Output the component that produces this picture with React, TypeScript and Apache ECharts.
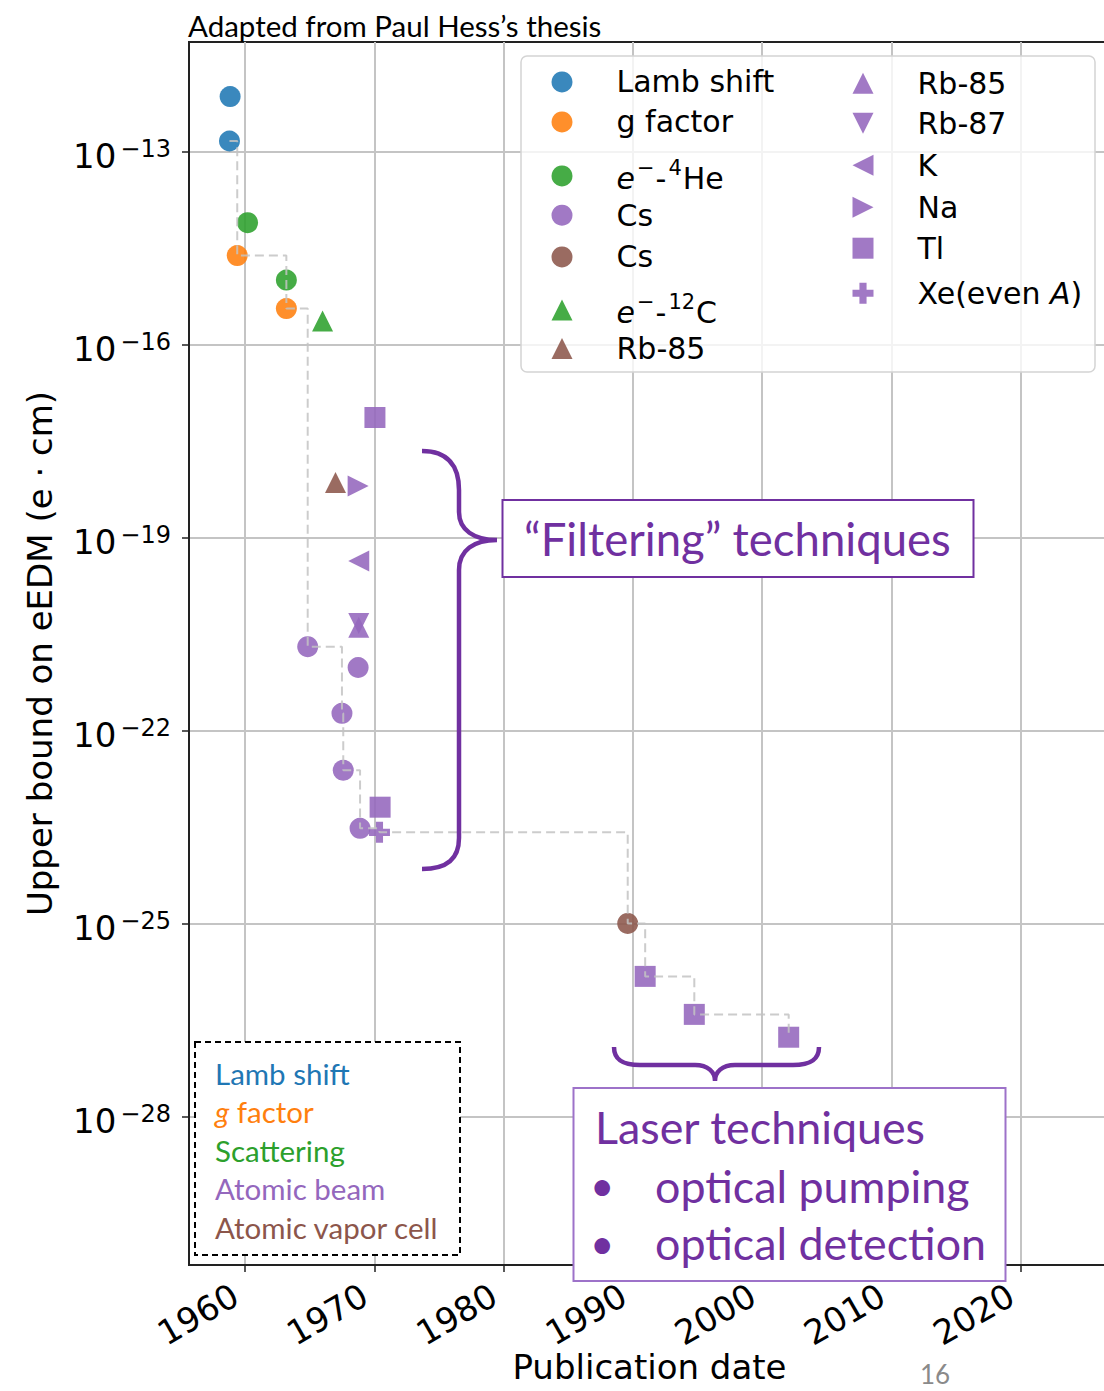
import React, { useEffect, useRef } from 'react';
import * as echarts from 'echarts';

// ---------- axes ----------
const TICK_YEARS = [1960, 1970, 1980, 1990, 2000, 2010, 2020];
const TICK_EXPONENTS = [-28, -25, -22, -19, -16, -13];
const X_MIN = 1955.67;
const X_MAX = 2026.9;
const Y_EXP_MIN = -30.31;
const Y_EXP_MAX = -11.3;

// ---------- data: [publication year, upper bound on eEDM (e·cm)] ----------
const lambShift = [[1958.85, 7.1e-13], [1958.8, 1.45e-13]];
const gFactor = [[1959.4, 2.4e-15], [1963.2, 3.6e-16]];
const eHe4 = [[1960.2, 7.8e-15], [1963.2, 1.0e-15]];
const csBeam = [[1964.85, 2.0e-21], [1968.75, 9.5e-22], [1967.5, 1.84e-22], [1967.6, 2.4e-23], [1968.9, 3.0e-24]];
const csCell = [[1989.6, 1.0e-25]];
const eC12 = [[1966.0, 2.3e-16]];
const rb85Cell = [[1967.0, 7.1e-19]];
const rb85Beam = [[1968.8, 4.0e-21]];
const rb87Beam = [[1968.8, 4.6e-21]];
const kBeam = [[1968.8, 4.3e-20]];
const naBeam = [[1968.75, 6.3e-19]];
const tlBeam = [[1970.05, 7.3e-18], [1970.45, 6.4e-24], [1990.95, 1.5e-26], [1994.75, 3.85e-27], [2002.05, 1.7e-27]];
const xeBeam = [[1970.4, 2.6e-24]];

const C_BLUE = '#1f77b4';
const C_ORANGE = '#ff7f0e';
const C_GREEN = '#2ca02c';
const C_PURPLE = '#9467bd';
const C_BROWN = '#8c564b';
const ANNOT = '#7030A0';

const SYM_CIRCLE = 'circle';
const SYM_UP = 'path://M5,0L10,10L0,10Z';
const SYM_DOWN = 'path://M0,0L10,0L5,10Z';
const SYM_LEFT = 'path://M10,0L10,10L0,5Z';
const SYM_RIGHT = 'path://M0,0L0,10L10,5Z';
const SYM_SQUARE = 'rect';
const SYM_PLUS = 'path://M3.3,0H6.7V3.3H10V6.7H6.7V10H3.3V6.7H0V3.3H3.3Z';

// name (unique id), legend text, data, symbol, color, legend column
const SERIES_DEFS = [
  { name: 'Lamb shift', label: 'Lamb shift', data: lambShift, symbol: SYM_CIRCLE, color: C_BLUE, col: 0 },
  { name: 'g factor', label: 'g factor', data: gFactor, symbol: SYM_CIRCLE, color: C_ORANGE, col: 0 },
  { name: 'e-4He', label: '{i|e}{sup|−}{n|-}{sup|4}{n|He}', data: eHe4, symbol: SYM_CIRCLE, color: C_GREEN, col: 0 },
  { name: 'Cs beam', label: 'Cs', data: csBeam, symbol: SYM_CIRCLE, color: C_PURPLE, col: 0 },
  { name: 'Cs cell', label: 'Cs', data: csCell, symbol: SYM_CIRCLE, color: C_BROWN, col: 0 },
  { name: 'e-12C', label: '{i|e}{sup|−}{n|-}{sup|12}{n|C}', data: eC12, symbol: SYM_UP, color: C_GREEN, col: 0 },
  { name: 'Rb-85 cell', label: 'Rb-85', data: rb85Cell, symbol: SYM_UP, color: C_BROWN, col: 0 },
  { name: 'Rb-85 beam', label: 'Rb-85', data: rb85Beam, symbol: SYM_UP, color: C_PURPLE, col: 1 },
  { name: 'Rb-87 beam', label: 'Rb-87', data: rb87Beam, symbol: SYM_DOWN, color: C_PURPLE, col: 1 },
  { name: 'K beam', label: 'K', data: kBeam, symbol: SYM_LEFT, color: C_PURPLE, col: 1 },
  { name: 'Na beam', label: 'Na', data: naBeam, symbol: SYM_RIGHT, color: C_PURPLE, col: 1 },
  { name: 'Tl beam', label: 'Tl', data: tlBeam, symbol: SYM_SQUARE, color: C_PURPLE, col: 1 },
  { name: 'Xe beam', label: 'Xe(even {ia|A})', data: xeBeam, symbol: SYM_PLUS, color: C_PURPLE, col: 1 },
];

const LEGEND_ROW_Y = [
  [81.7, 121.7, 172.7, 215, 256.7, 306.7, 348.3],
  [83, 123, 165, 207, 248, 293],
];
const LEGEND_COL_X = [562, 863];

const CATEGORY_NOTES = [
  { text: 'Lamb shift', color: C_BLUE },
  { text: '{i|g} factor', color: C_ORANGE },
  { text: 'Scattering', color: C_GREEN },
  { text: 'Atomic beam', color: C_PURPLE },
  { text: 'Atomic vapor cell', color: C_BROWN },
];

const BIG_BRACE_D =
  'M422,451 C448,451 459,466 459,490 L459,512 C459,530 474,540 497,540 C474,540 459,550 459,570 L459,838 C459,858 448,869 422,869';
const SMALL_BRACE_D =
  'M614,1047 C614,1060 623,1065 640,1065 L695,1065 C708,1065 715,1072 715,1081 C715,1072 722,1065 735,1065 L793,1065 C810,1065 819,1060 819,1047';

echarts.graphic.registerShape('bigBrace', echarts.graphic.extendPath(BIG_BRACE_D, {}));
echarts.graphic.registerShape('smallBrace', echarts.graphic.extendPath(SMALL_BRACE_D, {}));

const FONT_PLOT = 'DejaVu Sans';
const FONT_SLIDE = 'Lato';

function buildRecordLine() {
  const all: number[][] = [];
  SERIES_DEFS.forEach((s) => s.data.forEach((p) => all.push(p)));
  all.sort((a, b) => a[0] - b[0]);
  const out: number[][] = [];
  let best = Infinity;
  all.forEach(([yr, v]) => {
    if (v < best) {
      best = v;
      out.push([yr, Math.log10(v)]);
    }
  });
  return out;
}

function slideText(text: string, x: number, y: number, size: number, color: string, extra: any = {}) {
  return {
    type: 'text',
    x,
    y,
    z: 101,
    style: {
      text,
      fill: color,
      fontSize: size,
      fontFamily: FONT_SLIDE,
      align: 'left',
      verticalAlign: 'middle',
      textAlign: 'left',
      textVerticalAlign: 'middle',
      ...extra,
    },
  };
}

export default function App() {
  const ref = useRef<HTMLDivElement>(null);

  useEffect(() => {
    if (!ref.current) return;
    const chart = echarts.init(ref.current, null, { renderer: 'svg' });

    const legendRich = {
      n: { fontSize: 30, fontFamily: FONT_PLOT, color: '#000', lineHeight: 36, verticalAlign: 'bottom' },
      i: { fontStyle: 'italic', fontSize: 30, fontFamily: FONT_PLOT, color: '#000', lineHeight: 36, verticalAlign: 'bottom' },
      ia: { fontStyle: 'italic', fontSize: 30, fontFamily: FONT_PLOT, color: '#000' },
      sup: { fontSize: 21, fontFamily: FONT_PLOT, color: '#000', lineHeight: 36, verticalAlign: 'top', padding: [0, 1, 0, 2] },
    };
    const colCount = [0, 0];
    const legends = SERIES_DEFS.map((s) => {
      const row = colCount[s.col]++;
      const cy = LEGEND_ROW_Y[s.col][row];
      return {
        show: true,
        data: [s.name],
        orient: 'vertical',
        left: LEGEND_COL_X[s.col] - 10.5,
        top: cy - 14.8,
        padding: 0,
        itemWidth: 21,
        itemHeight: 21,
        selectedMode: false,
        formatter: () => s.label,
        textStyle: {
          fontSize: 30,
          fontFamily: FONT_PLOT,
          color: '#000',
          padding: [0, 0, 0, 39],
          rich: legendRich,
        },
      };
    });

    const scatterSeries = SERIES_DEFS.map((s) => ({
      type: 'scatter',
      name: s.name,
      data: s.data.map(([yr, v]) => [yr, Math.log10(v)]),
      symbol: s.symbol,
      symbolSize: 21,
      itemStyle: { color: s.color, opacity: 0.88 },
      z: 2,
      silent: true,
    }));

    const lineSeries = {
      type: 'line',
      name: 'record',
      data: buildRecordLine(),
      step: 'end',
      symbol: 'none',
      lineStyle: { color: 'rgba(195,195,195,0.85)', width: 2, type: [9, 5] },
      z: 3,
      silent: true,
    };

    const graphics: any[] = [
      // title
      slideText('Adapted from Paul Hess’s thesis', 188, 25, 29.5, '#000'),
      // legend frame
      {
        type: 'rect',
        z: 1,
        shape: { x: 521, y: 56, width: 574, height: 316, r: 6 },
        style: { fill: 'rgba(255,255,255,0.8)', stroke: '#d4d4d4', lineWidth: 1.5 },
      },
      // big brace + filtering box
      {
        type: 'bigBrace',
        z: 100,
        x: 0,
        y: 0,
        style: { fill: 'none', stroke: ANNOT, lineWidth: 4.5 },
      },
      {
        type: 'rect',
        z: 100,
        shape: { x: 502.5, y: 500, width: 471, height: 77 },
        style: { fill: '#fff', stroke: ANNOT, lineWidth: 2 },
      },
      slideText('“Filtering” techniques', 524, 538, 45.5, ANNOT),
      // small brace + laser box
      {
        type: 'smallBrace',
        z: 100,
        x: 0,
        y: 0,
        style: { fill: 'none', stroke: ANNOT, lineWidth: 4.5 },
      },
      {
        type: 'rect',
        z: 100,
        shape: { x: 573.5, y: 1088, width: 432, height: 193 },
        style: { fill: '#fff', stroke: '#9d72c9', lineWidth: 2 },
      },
      slideText('Laser techniques', 595, 1127, 44.8, ANNOT),
      slideText('•', 590, 1185, 42, ANNOT),
      slideText('optical pumping', 655, 1186, 44.8, ANNOT),
      slideText('•', 590, 1243, 42, ANNOT),
      slideText('optical detection', 655, 1243, 44.8, ANNOT),
      // dashed categories box
      {
        type: 'rect',
        z: 100,
        shape: { x: 195, y: 1042, width: 265, height: 213 },
        style: { fill: '#fff', stroke: '#000', lineWidth: 2, lineDash: [6, 4] },
      },
      ...CATEGORY_NOTES.map((n, i) =>
        slideText(n.text, 215, 1073 + i * 38.5, 29.5, n.color, {
          rich: {
            i: { fontStyle: 'italic', fontSize: 29.5, fontFamily: FONT_SLIDE, fill: n.color, color: n.color },
          },
        })
      ),
      // slide number
      slideText('16', 920, 1374, 26, '#8a8a8a'),
    ];

    const option: any = {
      animation: false,
      backgroundColor: '#fff',
      grid: {
        left: 189,
        top: 42,
        width: 921,
        height: 1223,
        show: true,
        borderColor: '#222',
        borderWidth: 2,
        backgroundColor: 'transparent',
        containLabel: false,
        outerBoundsMode: 'none',
      },
      xAxis: {
        type: 'value',
        min: X_MIN,
        max: X_MAX,
        name: 'Publication date',
        nameLocation: 'middle',
        nameGap: 85,
        nameMoveOverlap: false,
        nameTextStyle: { fontSize: 34, lineHeight: 34, fontFamily: FONT_PLOT, color: '#000' },
        axisLine: { show: true, onZero: false, lineStyle: { color: '#222', width: 2 } },
        axisTick: { show: true, customValues: TICK_YEARS, length: 7, lineStyle: { color: '#222', width: 1.5 } },
        axisLabel: {
          customValues: TICK_YEARS,
          rotate: 30,
          margin: 22,
          padding: [0, 11, 0, 0],
          fontSize: 34,
          fontFamily: FONT_PLOT,
          color: '#000',
          formatter: (v: number) => String(Math.round(v)),
        },
        splitLine: { show: true, lineStyle: { color: '#c4c4c4', width: 2 } },
      },
      yAxis: {
        type: 'value',
        min: Y_EXP_MIN,
        max: Y_EXP_MAX,
        name: 'Upper bound on eEDM (e · cm)',
        nameLocation: 'middle',
        nameRotate: 90,
        nameGap: 132,
        nameMoveOverlap: false,
        nameTextStyle: { fontSize: 34, fontFamily: FONT_PLOT, color: '#000' },
        axisLine: { show: true, onZero: false, lineStyle: { color: '#222', width: 2 } },
        axisTick: { show: true, customValues: TICK_EXPONENTS, length: 7, lineStyle: { color: '#222', width: 1.5 } },
        axisLabel: {
          customValues: TICK_EXPONENTS,
          margin: 18,
          formatter: (v: number) => `{b|10}{s|−${Math.abs(Math.round(v))}}`,
          rich: {
            b: { fontSize: 34, fontFamily: FONT_PLOT, color: '#000', verticalAlign: 'bottom', lineHeight: 44 },
            s: {
              fontSize: 24,
              fontFamily: FONT_PLOT,
              color: '#000',
              verticalAlign: 'top',
              lineHeight: 44,
              padding: [8, 0, 0, 4],
            },
          },
        },
        splitLine: { show: true, lineStyle: { color: '#c4c4c4', width: 2 } },
      },
      legend: legends,
      series: [...scatterSeries, lineSeries],
      graphic: { elements: graphics },
    };

    chart.setOption(option);
    return () => chart.dispose();
  }, []);

  return (
    <div
      ref={ref}
      style={{ position: 'absolute', left: 0, top: 0, width: 1104, height: 1391, background: '#fff' }}
    />
  );
}
